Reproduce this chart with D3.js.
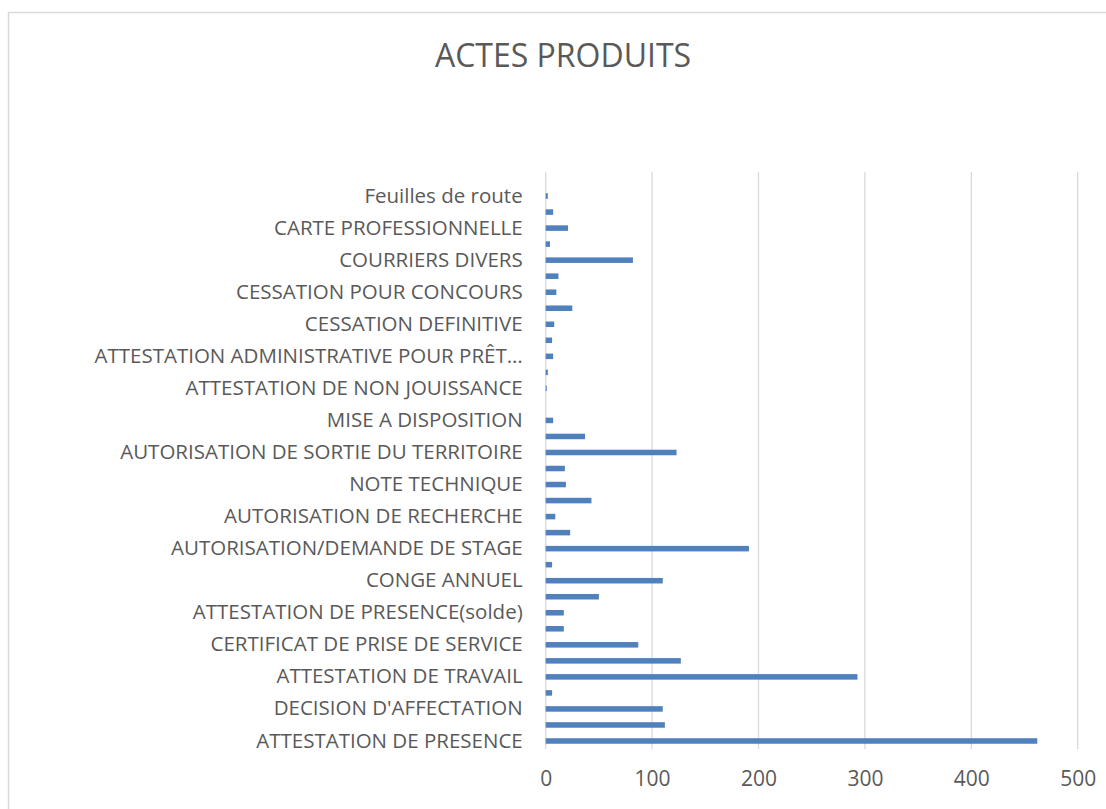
<!DOCTYPE html>
<html>
<head>
<meta charset="utf-8">
<script src="https://cdn.jsdelivr.net/npm/d3@7"></script>
<style>
  body { margin: 0; background: #fff; }
  svg { display: block; }
</style>
</head>
<body>
<svg id="chart" width="1106" height="809"></svg>
<script>
// categories from bottom to top; Excel only shows every other label
var categories = [
  "ATTESTATION DE PRESENCE", "",
  "DECISION D'AFFECTATION", "",
  "ATTESTATION DE TRAVAIL", "",
  "CERTIFICAT DE PRISE DE SERVICE", "",
  "ATTESTATION DE PRESENCE(solde)", "",
  "CONGE ANNUEL", "",
  "AUTORISATION/DEMANDE DE STAGE", "",
  "AUTORISATION DE RECHERCHE", "",
  "NOTE TECHNIQUE", "",
  "AUTORISATION DE SORTIE DU TERRITOIRE", "",
  "MISE A DISPOSITION", "",
  "ATTESTATION DE NON JOUISSANCE", "",
  "ATTESTATION ADMINISTRATIVE POUR PRÊT…", "",
  "CESSATION DEFINITIVE", "",
  "CESSATION POUR CONCOURS", "",
  "COURRIERS DIVERS", "",
  "CARTE PROFESSIONNELLE", "",
  "Feuilles de route", ""
];
var values = [
  462, 112, 110, 6, 293, 127, 87, 17, 17, 50,
  110, 6, 191, 23, 9, 43, 19, 18, 123, 37,
  7, 0, 1, 2, 7, 6, 8, 25, 10, 12,
  82, 4, 21, 7, 2, 0
];
var xTicks = [0, 100, 200, 300, 400, 500];
var title = "ACTES PRODUITS";

var svg = d3.select("#chart");
var font = "'Open Sans', sans-serif";
var textColor = "#595959";

// chart border (runs off the right and bottom edges)
svg.append("rect")
  .attr("x", 8.5).attr("y", 12.5)
  .attr("width", 1120).attr("height", 820)
  .attr("fill", "#fff")
  .attr("stroke", "#d9d9d9")
  .attr("stroke-width", 1.5);

svg.append("text")
  .attr("x", 563).attr("y", 67)
  .attr("text-anchor", "middle")
  .attr("font-family", font)
  .attr("font-size", 32)
  .attr("fill", textColor)
  .text(title);

var plotTop = 172, plotBottom = 749, plotLeft = 545.7, plotRight = 1077.7;

var x = d3.scaleLinear().domain([0, 500]).range([plotLeft, plotRight]);
var idx = d3.range(values.length);
var pad = 0.655;
var y = d3.scaleBand()
  .domain(idx)
  .range([plotBottom, plotTop])
  .paddingInner(pad)
  .paddingOuter(pad / 2);

// gridlines
svg.append("g")
  .selectAll("line")
  .data(xTicks)
  .join("line")
  .attr("x1", function(d) { return x(d); })
  .attr("x2", function(d) { return x(d); })
  .attr("y1", plotTop)
  .attr("y2", plotBottom)
  .attr("stroke", "#d9d9d9")
  .attr("stroke-width", 1.3);

// bars
svg.append("g")
  .selectAll("rect")
  .data(idx)
  .join("rect")
  .attr("x", x(0))
  .attr("y", function(i) { return y(i); })
  .attr("width", function(i) { return x(values[i]) - x(0); })
  .attr("height", y.bandwidth())
  .attr("fill", "#4f81bd");

// category axis
var yAxis = d3.axisLeft(y)
  .tickSize(0)
  .tickPadding(23)
  .tickFormat(function(i) { return categories[i]; });

var gy = svg.append("g")
  .attr("transform", "translate(" + plotLeft + ",0)")
  .call(yAxis);
gy.select(".domain").remove();
gy.selectAll("text")
  .attr("font-family", font)
  .attr("font-size", 20.5)
  .attr("fill", textColor);

// value axis
var xAxis = d3.axisBottom(x)
  .tickValues(xTicks)
  .tickSize(0)
  .tickPadding(22);

var gx = svg.append("g")
  .attr("transform", "translate(0," + plotBottom + ")")
  .call(xAxis);
gx.select(".domain").remove();
gx.selectAll("text")
  .attr("font-family", font)
  .attr("font-size", 21)
  .attr("fill", textColor);
</script>
</body>
</html>
